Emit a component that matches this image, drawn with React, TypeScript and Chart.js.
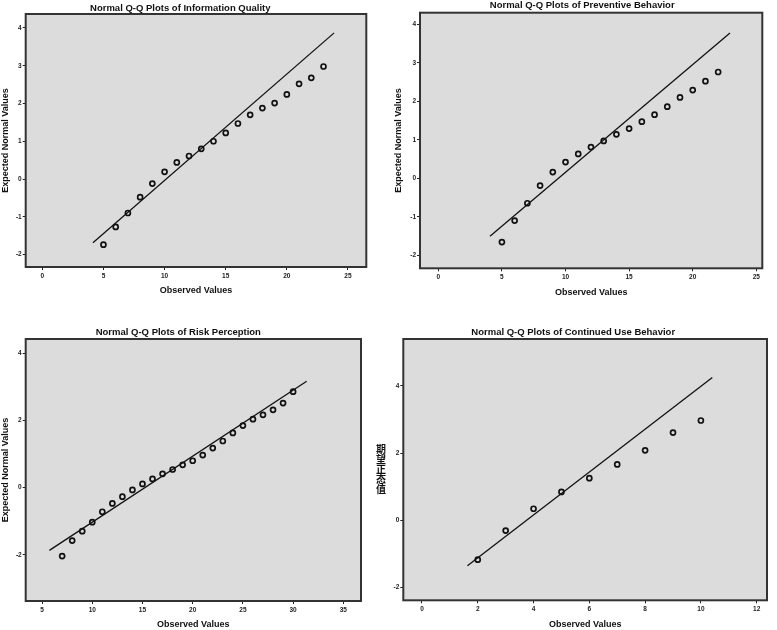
import React, { useEffect, useRef } from 'react';
import { Chart, registerables } from 'chart.js';

Chart.register(...registerables);

// ---------- Data ----------
// Information Quality
const iqObserved = [5, 6, 7, 8, 9, 10, 11, 12, 13, 14, 15, 16, 17, 18, 19, 20, 21, 22, 23];
const iqExpected = [-1.74, -1.27, -0.9, -0.48, -0.12, 0.19, 0.44, 0.61, 0.8, 1.0, 1.22, 1.47, 1.7, 1.88, 2.01, 2.24, 2.52, 2.68, 2.98];
const iqLineX = [4.14, 23.87];
const iqLineY = [-1.69, 3.87];
const iqXRange = [-1.36, 26.5];
const iqYRange = [-2.33, 4.37];

// Preventive Behavior
const pbObserved = [5, 6, 7, 8, 9, 10, 11, 12, 13, 14, 15, 16, 17, 18, 19, 20, 21, 22];
const pbExpected = [-1.66, -1.1, -0.65, -0.19, 0.16, 0.42, 0.63, 0.81, 0.97, 1.14, 1.29, 1.47, 1.65, 1.86, 2.1, 2.29, 2.52, 2.76];
const pbLineX = [4.06, 22.93];
const pbLineY = [-1.51, 3.77];
const pbXRange = [-1.44, 25.47];
const pbYRange = [-2.34, 4.3];

// Risk Perception
const rpObserved = [7, 8, 9, 10, 11, 12, 13, 14, 15, 16, 17, 18, 19, 20, 21, 22, 23, 24, 25, 26, 27, 28, 29, 30];
const rpExpected = [-2.04, -1.58, -1.3, -1.03, -0.72, -0.47, -0.27, -0.07, 0.11, 0.26, 0.41, 0.54, 0.68, 0.8, 0.97, 1.18, 1.39, 1.63, 1.85, 2.04, 2.17, 2.32, 2.52, 2.86];
const rpLineX = [5.73, 31.35];
const rpLineY = [-1.87, 3.17];
const rpXRange = [3.37, 36.76];
const rpYRange = [-3.38, 4.43];

// Continued Use Behavior
const cuObserved = [2, 3, 4, 5, 6, 7, 8, 9, 10];
const cuExpected = [-1.18, -0.31, 0.34, 0.84, 1.25, 1.66, 2.08, 2.61, 2.97];
const cuLineX = [1.63, 10.41];
const cuLineY = [-1.36, 4.25];
const cuXRange = [-0.67, 12.37];
const cuYRange = [-2.39, 5.4];

// Labels
const titles = [
  'Normal Q-Q Plots of Information Quality',
  'Normal Q-Q Plots of Preventive Behavior',
  'Normal Q-Q Plots of Risk Perception',
  'Normal Q-Q Plots of Continued Use Behavior',
];
const xAxisTitle = 'Observed Values';
const yAxisTitle = 'Expected Normal Values';
const yAxisTitleCN = '期望正态值';

const FONT = 'Arial, "Liberation Sans", Helvetica, sans-serif';

const panels = [
  {
    left: 0, top: 0, width: 372, height: 300, box: [25.7, 14, 366.7, 267],
    title: titles[0], titleX: 180.3, titleY: 8,
    obs: iqObserved, exp: iqExpected, lx: iqLineX, ly: iqLineY, xr: iqXRange, yr: iqYRange,
    xStep: 5, yStep: 1, yTitle: yAxisTitle, yTitlePad: 0, xTitlePad: 3.6, stacked: null,
  },
  {
    left: 390, top: 0, width: 387, height: 300, box: [30, 12.7, 372.3, 268.3],
    title: titles[1], titleX: 192.2, titleY: 5,
    obs: pbObserved, exp: pbExpected, lx: pbLineX, ly: pbLineY, xr: pbXRange, yr: pbYRange,
    xStep: 5, yStep: 1, yTitle: yAxisTitle, yTitlePad: 3.6, xTitlePad: 2.3, stacked: null,
  },
  {
    left: 0, top: 300, width: 372, height: 330, box: [25.7, 39, 361, 301],
    title: titles[2], titleX: 178.3, titleY: 32.7,
    obs: rpObserved, exp: rpExpected, lx: rpLineX, ly: rpLineY, xr: rpXRange, yr: rpYRange,
    xStep: 5, yStep: 2, yTitle: yAxisTitle, yTitlePad: 0, xTitlePad: 0, stacked: null,
  },
  {
    left: 370, top: 300, width: 407, height: 330, box: [33.3, 39, 397, 300.3],
    title: titles[3], titleX: 203.2, titleY: 32.7,
    obs: cuObserved, exp: cuExpected, lx: cuLineX, ly: cuLineY, xr: cuXRange, yr: cuYRange,
    xStep: 2, yStep: 2, yTitle: '', yTitlePad: 0, xTitlePad: 0, stacked: { text: yAxisTitleCN, x: 11, step: 10 },
  },
];

function QQPanel({ cfg }: { cfg: any }) {
  const ref = useRef<HTMLCanvasElement>(null);

  useEffect(() => {
    const c = cfg;
    const framePlugin = {
      id: 'qqFrame',
      beforeDraw(chart: any) {
        const { ctx, chartArea: a } = chart;
        ctx.save();
        ctx.fillStyle = '#dcdcdc';
        ctx.fillRect(a.left, a.top, a.right - a.left, a.bottom - a.top);
        ctx.restore();
      },
      afterDatasetsDraw(chart: any) {
        const { ctx, chartArea: a } = chart;
        ctx.save();
        ctx.strokeStyle = '#333';
        ctx.lineWidth = 2;
        ctx.strokeRect(a.left, a.top, a.right - a.left, a.bottom - a.top);
        ctx.restore();
      },
      afterDraw(chart: any) {
        const { ctx, chartArea: a } = chart;
        ctx.save();
        ctx.fillStyle = '#111';
        ctx.font = `bold 9.5px ${FONT}`;
        ctx.textAlign = 'center';
        ctx.textBaseline = 'middle';
        ctx.fillText(c.title, c.titleX, c.titleY);
        if (c.stacked) {
          const chars = Array.from(c.stacked.text as string);
          ctx.font = 'bold 10px "Noto Sans CJK SC", sans-serif';
          const mid = (a.top + a.bottom) / 2;
          const y0 = mid - ((chars.length - 1) * c.stacked.step) / 2;
          chars.forEach((ch, i) => ctx.fillText(ch, c.stacked.x, y0 + i * c.stacked.step));
        }
        ctx.restore();
      },
    };

    const tickFont = { family: FONT, size: 6.5, weight: 'bold' as const };
    const titleFont = { family: FONT, size: 9, weight: 'bold' as const };

    const chart = new Chart(ref.current as HTMLCanvasElement, {
      type: 'scatter',
      data: {
        datasets: [
          {
            type: 'line',
            data: c.lx.map((x: number, i: number) => ({ x, y: c.ly[i] })),
            borderColor: '#111',
            borderWidth: 1.3,
            pointRadius: 0,
            fill: false,
            order: 2,
          } as any,
          {
            type: 'scatter',
            data: c.obs.map((x: number, i: number) => ({ x, y: c.exp[i] })),
            pointRadius: 2.5,
            pointBorderWidth: 1.7,
            borderColor: '#111',
            backgroundColor: 'rgba(0,0,0,0)',
            pointBackgroundColor: 'rgba(0,0,0,0)',
            pointBorderColor: '#111',
            order: 1,
          } as any,
        ],
      },
      options: {
        responsive: false,
        maintainAspectRatio: false,
        animation: false,
        devicePixelRatio: 1,
        layout: {
          padding: { left: 0, top: c.box[1], right: c.width - c.box[2], bottom: 0 },
        },
        plugins: {
          legend: { display: false },
          tooltip: { enabled: false },
          title: { display: false },
        },
        scales: {
          x: {
            type: 'linear',
            min: c.xr[0],
            max: c.xr[1],
            afterFit: (s: any) => { s.height = c.height - c.box[3]; },
            border: { display: false },
            grid: { drawOnChartArea: false, drawTicks: true, tickLength: 3, color: '#222', lineWidth: 1 },
            ticks: {
              stepSize: c.xStep,
              includeBounds: false,
              autoSkip: false,
              maxRotation: 0,
              padding: 2,
              color: '#222',
              font: tickFont,
            },
            title: {
              display: true,
              text: xAxisTitle,
              color: '#111',
              font: titleFont,
              padding: { top: 0, bottom: c.xTitlePad },
            },
          },
          y: {
            type: 'linear',
            min: c.yr[0],
            max: c.yr[1],
            afterFit: (s: any) => { s.width = c.box[0]; },
            border: { display: false },
            grid: { drawOnChartArea: false, drawTicks: true, tickLength: 3, color: '#222', lineWidth: 1 },
            ticks: {
              stepSize: c.yStep,
              includeBounds: false,
              autoSkip: false,
              padding: 1,
              color: '#222',
              font: tickFont,
            },
            title: {
              display: !!c.yTitle,
              text: c.yTitle,
              color: '#111',
              font: titleFont,
              padding: { top: c.yTitlePad, bottom: 0 },
            },
          },
        },
      } as any,
      plugins: [framePlugin],
    });

    return () => chart.destroy();
  }, [cfg]);

  return (
    <canvas
      ref={ref}
      width={cfg.width}
      height={cfg.height}
      style={{ position: 'absolute', left: cfg.left, top: cfg.top, width: cfg.width, height: cfg.height }}
    />
  );
}

export default function App() {
  return (
    <div style={{ position: 'absolute', left: 0, top: 0, width: 777, height: 630, background: '#fff', overflow: 'hidden' }}>
      {panels.map((p, i) => (
        <QQPanel key={i} cfg={p} />
      ))}
    </div>
  );
}
